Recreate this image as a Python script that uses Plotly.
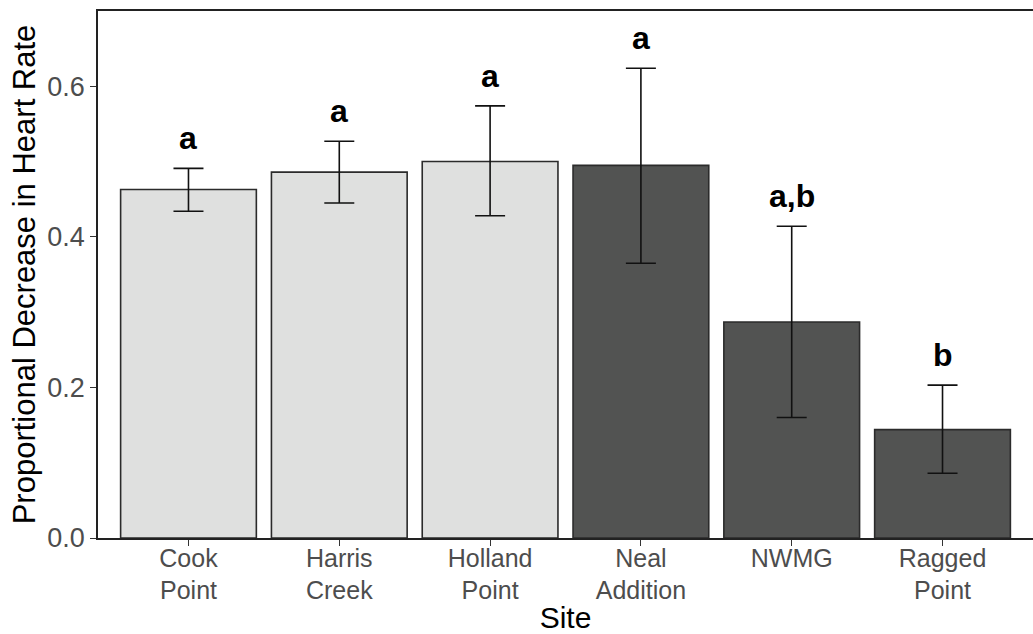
import plotly.graph_objects as go

sites = ["Cook<br>Point", "Harris<br>Creek", "Holland<br>Point", "Neal<br>Addition", "NWMG", "Ragged<br>Point"]
means = [0.463, 0.486, 0.500, 0.495, 0.287, 0.144]
upper = [0.491, 0.527, 0.574, 0.624, 0.414, 0.203]
lower = [0.434, 0.445, 0.428, 0.365, 0.160, 0.086]
letters = ["a", "a", "a", "a", "a,b", "b"]
groups = ["light", "light", "light", "dark", "dark", "dark"]

colors = {"light": "#dfe0df", "dark": "#525352"}
FONT = "Liberation Sans, Arial, sans-serif"

x_idx = list(range(len(sites)))
fig = go.Figure()
fig.add_trace(go.Bar(
    x=x_idx, y=means, width=0.9,
    marker=dict(color=[colors[g] for g in groups], line=dict(color="#2b2b2b", width=1.6)),
    error_y=dict(type="data", symmetric=False,
                 array=[u - m for u, m in zip(upper, means)],
                 arrayminus=[m - l for m, l in zip(means, lower)],
                 color="#111111", thickness=1.6, width=15),
    showlegend=False,
))

for i, (u, t) in enumerate(zip(upper, letters)):
    fig.add_annotation(x=i, y=u, text="<b>%s</b>" % t, showarrow=False,
                       yanchor="bottom", xanchor="center", yshift=10,
                       font=dict(family=FONT, size=32, color="black"))

fig.update_layout(
    width=1033, height=634,
    margin=dict(l=97.5, r=0, t=10.5, b=95.7),
    paper_bgcolor="white", plot_bgcolor="white",
    font=dict(family=FONT),
    bargap=0.1,
)
fig.update_xaxes(
    range=[-0.6, 5.6], tickvals=x_idx, ticktext=sites, automargin=False,
    showline=True, linecolor="#222222", linewidth=1.6, mirror=True,
    ticks="outside", ticklen=6, tickwidth=1.4, tickcolor="#333333",
    tickfont=dict(size=25, color="#4d4d4d", family=FONT),
    ticklabelstandoff=-9,
    showgrid=False, zeroline=False,
    title=dict(text="Site", font=dict(size=30, color="black", family=FONT), standoff=6),
)
fig.update_yaxes(
    range=[0, 0.7], tickvals=[0, 0.2, 0.4, 0.6], ticktext=["0.0", "0.2", "0.4", "0.6"],
    automargin=False,
    showline=True, linecolor="#222222", linewidth=1.6,
    ticks="outside", ticklen=6, tickwidth=1.4, tickcolor="#333333",
    tickfont=dict(size=27, color="#4d4d4d", family=FONT),
    showgrid=False, zeroline=False,
    title=dict(text="Proportional Decrease in Heart Rate", font=dict(size=31, color="black", family=FONT), standoff=2),
)

fig.write_html("out.html")
